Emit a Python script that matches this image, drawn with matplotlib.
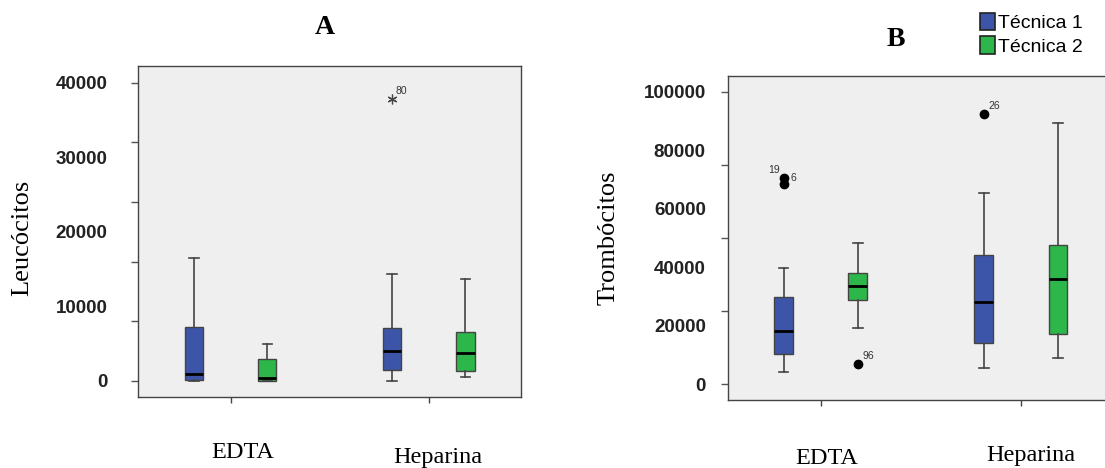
import numpy as np
import matplotlib
matplotlib.use("Agg")
import matplotlib.pyplot as plt
from matplotlib.patches import Patch

# anticoagulant groups
categories = ["EDTA", "Heparina"]
techniques = ["Técnica 1", "Técnica 2"]

# box stats per group: [whislo, q1, median, q3, whishi]
leuco_tec1 = [[0, 190, 990, 7290, 16540], [0, 1430, 4070, 7160, 14400]]
leuco_tec2 = [[0, 40, 400, 2910, 4960], [540, 1300, 3710, 6620, 13630]]
# outliers: (group, technique, value, case number)
leuco_outliers = [(1, 0, 37760, "80")]

trombo_tec1 = [[4210, 10260, 18240, 29760, 39790], [5370, 13920, 27950, 44130, 65240]]
trombo_tec2 = [[19060, 28740, 33530, 37870, 48340], [8790, 17000, 36020, 47450, 89530]]
trombo_outliers = [(0, 0, 70710, "6"), (0, 0, 68420, "19"), (0, 1, 6740, "96"), (1, 0, 92610, "26")]

# axis ticks (marks) and labelled values, as in the original figure
leuco_tick_marks = [0, 8000, 16000, 24000, 32000, 40000]
leuco_tick_labels = [0, 10000, 20000, 30000, 40000]
trombo_tick_marks = [0, 25000, 50000, 75000, 100000]
trombo_tick_labels = [0, 20000, 40000, 60000, 80000, 100000]

colors = ["#3c55a8", "#2db64a"]
bg = "#efefef"
edge = "#444444"

W, H = 1105, 468
fig = plt.figure(figsize=(W / 100, H / 100), dpi=100)


def px_axes(left, top, right, bottom):
    return fig.add_axes([left / W, 1 - bottom / H, (right - left) / W, (bottom - top) / H])


def make_stats(row):
    return dict(whislo=row[0], q1=row[1], med=row[2], q3=row[3], whishi=row[4], fliers=[])


def draw_panel(ax, tec1, tec2, outliers, marks, labels, ylim, xlim, marker, label_offsets, label_pad):
    ax.set_facecolor(bg)
    offset = 0.185
    width = 0.094
    for k, (data, col) in enumerate(zip([tec1, tec2], colors)):
        pos = np.arange(len(categories)) + (k * 2 - 1) * offset
        stats = [make_stats(r) for r in data]
        ax.bxp(stats, positions=pos, widths=width, patch_artist=True, showfliers=False,
               boxprops=dict(facecolor=col, edgecolor=edge, linewidth=1.0),
               medianprops=dict(color="black", linewidth=2.0),
               whiskerprops=dict(color=edge, linewidth=1.2),
               capprops=dict(color=edge, linewidth=1.2),
               capwidths=width * 0.5, manage_ticks=False)
    for i, (g, t, v, name) in enumerate(outliers):
        x = g + (t * 2 - 1) * offset
        if marker == "*":
            ax.plot(x, v, marker=(6, 2, 0), ms=7, mec="#444444", mew=0.9, ls="none")
        else:
            ax.plot(x, v, marker="o", ms=6, mfc="black", mec="black", ls="none")
        dx, dy = label_offsets[i]
        ax.annotate(name, (x, v), xytext=(dx, dy), textcoords="offset pixels",
                    ha="center", va="center", fontsize=7.5, color="#333333",
                    family="Liberation Sans")
    ax.set_xlim(*xlim)
    ax.set_ylim(*ylim)
    ax.yaxis.remove_overlapping_locs = False
    ax.set_yticks(marks)
    ax.set_yticklabels([])
    ax.set_yticks(labels, minor=True)
    ax.set_yticklabels([str(v) for v in labels], minor=True)
    ax.tick_params(axis="y", which="major", length=5, width=1, color="#555555")
    ax.tick_params(axis="y", which="minor", length=0, pad=label_pad, labelsize=13.5)
    for lab in ax.get_yticklabels(minor=True):
        lab.set_family("Liberation Sans")
        lab.set_fontweight("bold")
        lab.set_color("#222222")
    ax.set_xticks(range(len(categories)))
    ax.set_xticklabels([])
    ax.tick_params(axis="x", length=4, width=1, color="#444444")
    for s in ax.spines.values():
        s.set_color("#444444")
        s.set_linewidth(1.0)


# panel A
axA = px_axes(138, 66, 521, 397)
draw_panel(axA, leuco_tec1, leuco_tec2, leuco_outliers, leuco_tick_marks, leuco_tick_labels,
           (-2145, 42225), (-0.467, 1.466), "*", [(9, 8)], 22)

# panel B
axB = px_axes(728, 76, 1115, 400)
draw_panel(axB, trombo_tec1, trombo_tec2, trombo_outliers, trombo_tick_marks, trombo_tick_labels,
           (-5470, 105470), (-0.4635, 1.47), "o", [(10, 0), (-10, 14), (11, 8), (10, 8)], 16)


def ftext(x, y, s, **kw):
    fig.text(x / W, 1 - y / H, s, ha="center", va="center", **kw)


serif = "Liberation Serif"
ftext(325, 28, "A", family=serif, fontsize=20, fontweight="bold")
ftext(896, 39, "B", family=serif, fontsize=20, fontweight="bold")
ftext(22, 238, "Leucócitos", family=serif, fontsize=19, rotation=90)
ftext(609, 238, "Trombócitos", family=serif, fontsize=19, rotation=90)
ftext(243, 452, "EDTA", family=serif, fontsize=17.5)
ftext(438, 457, "Heparina", family=serif, fontsize=17.5)
ftext(827, 458, "EDTA", family=serif, fontsize=17.5)
ftext(1031, 456, "Heparina", family=serif, fontsize=17.5)

handles = [Patch(facecolor=c, edgecolor="#222222", linewidth=1.2) for c in colors]
fig.legend(handles, techniques, loc="upper left", bbox_to_anchor=(980 / W, 1 - 13 / H),
           frameon=False, prop=dict(family="Liberation Sans", size=14),
           handlelength=0.75, handleheight=1.0, handletextpad=0.15, labelspacing=0.2,
           borderaxespad=0, borderpad=0)

fig.savefig("out.png", dpi=100)
